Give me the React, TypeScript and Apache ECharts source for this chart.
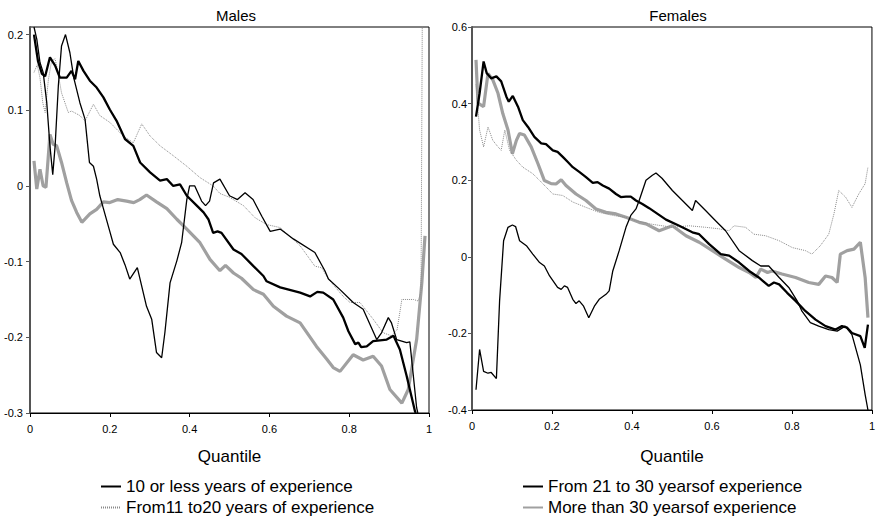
import React, { useEffect, useRef } from "react";
import * as echarts from "echarts";

// Legend / series names
const NAME_10 = "10 or less years of experience";
const NAME_11 = "From11 to20 years of experience";
const NAME_21 = "From 21 to 30 yearsof experience";
const NAME_30 = "More than 30 yearsof experience";

const PANEL_TITLES = ["Males", "Females"];
const X_TICKS = [0, 0.2, 0.4, 0.6, 0.8, 1];

// Males: [quantile, coefficient]
const maleLe10: number[][] = [
  [0.01, 0.21], [0.017, 0.194], [0.025, 0.163], [0.033, 0.15], [0.042, 0.11], [0.05, 0.053], [0.057, 0.015],
  [0.063, 0.053], [0.071, 0.132], [0.079, 0.185], [0.089, 0.2], [0.1, 0.176], [0.11, 0.142], [0.125, 0.11],
  [0.138, 0.088], [0.149, 0.031], [0.159, 0.026], [0.167, 0.009], [0.175, -0.013], [0.184, -0.03], [0.2, -0.06],
  [0.209, -0.077], [0.226, -0.088], [0.238, -0.104], [0.25, -0.123], [0.269, -0.108], [0.292, -0.159],
  [0.305, -0.176], [0.317, -0.22], [0.33, -0.227], [0.338, -0.194], [0.351, -0.128], [0.368, -0.099],
  [0.38, -0.075], [0.393, -0.018], [0.4, 0.0], [0.413, 0.0], [0.43, -0.02], [0.44, -0.026], [0.45, -0.02],
  [0.46, 0.004], [0.476, 0.009], [0.5, -0.013], [0.52, -0.018], [0.539, -0.009], [0.559, -0.018], [0.581, -0.04],
  [0.602, -0.06], [0.627, -0.057], [0.66, -0.07], [0.714, -0.088], [0.739, -0.112], [0.748, -0.123],
  [0.777, -0.137], [0.81, -0.154], [0.835, -0.163], [0.869, -0.203], [0.881, -0.194], [0.898, -0.174],
  [0.906, -0.181], [0.919, -0.203], [0.944, -0.207], [0.952, -0.206], [0.969, -0.293], [0.972, -0.3],
];
const maleF11: number[][] = [
  [0.01, 0.15], [0.018, 0.16], [0.025, 0.143], [0.032, 0.11], [0.038, 0.097], [0.046, 0.14], [0.054, 0.165],
  [0.063, 0.168], [0.07, 0.15], [0.079, 0.123], [0.096, 0.097], [0.104, 0.099], [0.125, 0.093], [0.138, 0.086],
  [0.159, 0.108], [0.175, 0.093], [0.2, 0.084], [0.234, 0.066], [0.259, 0.057], [0.28, 0.082], [0.301, 0.066],
  [0.326, 0.053], [0.359, 0.04], [0.393, 0.026], [0.426, 0.011], [0.459, 0.0], [0.476, -0.01], [0.5, -0.015],
  [0.535, -0.026], [0.564, -0.042], [0.593, -0.051], [0.627, -0.055], [0.677, -0.079], [0.714, -0.106],
  [0.731, -0.108], [0.748, -0.123], [0.785, -0.146], [0.802, -0.154], [0.827, -0.154], [0.86, -0.176],
  [0.885, -0.194], [0.906, -0.198], [0.92, -0.19], [0.932, -0.15], [0.961, -0.15], [0.973, -0.152],
  [0.98, -0.14], [0.99, 1.0],
];
const maleF21: number[][] = [
  [0.01, 0.2], [0.02, 0.165], [0.03, 0.148], [0.038, 0.145], [0.05, 0.17], [0.063, 0.159], [0.075, 0.143],
  [0.092, 0.143], [0.104, 0.152], [0.113, 0.141], [0.121, 0.165], [0.134, 0.152], [0.15, 0.139], [0.167, 0.13],
  [0.184, 0.117], [0.2, 0.101], [0.217, 0.086], [0.238, 0.062], [0.259, 0.053], [0.276, 0.031], [0.301, 0.018],
  [0.326, 0.007], [0.343, 0.009], [0.359, 0.0], [0.376, 0.002], [0.393, -0.013], [0.418, -0.026],
  [0.435, -0.035], [0.447, -0.044], [0.459, -0.062], [0.47, -0.06], [0.48, -0.062], [0.51, -0.084],
  [0.53, -0.09], [0.56, -0.106], [0.585, -0.119], [0.593, -0.126], [0.627, -0.134], [0.677, -0.141],
  [0.702, -0.146], [0.72, -0.14], [0.735, -0.141], [0.76, -0.15], [0.785, -0.174], [0.798, -0.192],
  [0.815, -0.209], [0.823, -0.207], [0.83, -0.213], [0.844, -0.212], [0.86, -0.205], [0.894, -0.203],
  [0.911, -0.198], [0.927, -0.216], [0.944, -0.251], [0.965, -0.298], [0.967, -0.3],
];
const maleMt30: number[][] = [
  [0.01, 0.033], [0.017, -0.004], [0.025, 0.022], [0.033, 0.0], [0.04, -0.002], [0.05, 0.068], [0.058, 0.055],
  [0.067, 0.053], [0.079, 0.031], [0.092, 0.004], [0.104, -0.019], [0.117, -0.035], [0.13, -0.048],
  [0.15, -0.037], [0.167, -0.031], [0.184, -0.021], [0.2, -0.022], [0.22, -0.018], [0.242, -0.02],
  [0.26, -0.022], [0.275, -0.018], [0.292, -0.012], [0.317, -0.021], [0.343, -0.03], [0.368, -0.044],
  [0.393, -0.057], [0.426, -0.075], [0.451, -0.097], [0.476, -0.112], [0.49, -0.105], [0.51, -0.115],
  [0.53, -0.122], [0.56, -0.137], [0.585, -0.143], [0.61, -0.159], [0.643, -0.172], [0.677, -0.181],
  [0.718, -0.212], [0.744, -0.229], [0.76, -0.24], [0.777, -0.245], [0.81, -0.223], [0.835, -0.23],
  [0.86, -0.225], [0.881, -0.238], [0.902, -0.269], [0.932, -0.287], [0.948, -0.269], [0.969, -0.203],
  [0.982, -0.128], [0.99, -0.066],
];

// Females: [quantile, coefficient]
const femaleLe10: number[][] = [
  [0.01, -0.347], [0.019, -0.242], [0.029, -0.299], [0.04, -0.304], [0.048, -0.302], [0.061, -0.318],
  [0.069, -0.115], [0.079, 0.042], [0.09, 0.077], [0.101, 0.083], [0.109, 0.079], [0.119, 0.042],
  [0.136, 0.029], [0.152, 0.007], [0.169, -0.015], [0.181, -0.024], [0.194, -0.05], [0.214, -0.08],
  [0.223, -0.085], [0.231, -0.076], [0.239, -0.08], [0.252, -0.111], [0.26, -0.122], [0.268, -0.115],
  [0.279, -0.129], [0.292, -0.159], [0.306, -0.129], [0.318, -0.111], [0.335, -0.098], [0.343, -0.089],
  [0.352, -0.037], [0.368, 0.016], [0.385, 0.077], [0.397, 0.108], [0.41, 0.125], [0.418, 0.147],
  [0.435, 0.2], [0.451, 0.213], [0.46, 0.219], [0.475, 0.205], [0.501, 0.173], [0.526, 0.147],
  [0.551, 0.121], [0.559, 0.147], [0.584, 0.121], [0.609, 0.094], [0.634, 0.068], [0.668, 0.016],
  [0.701, -0.01], [0.722, -0.024], [0.742, -0.024], [0.768, -0.054], [0.792, -0.08], [0.813, -0.115],
  [0.825, -0.142], [0.846, -0.172], [0.867, -0.181], [0.892, -0.19], [0.913, -0.194], [0.933, -0.181],
  [0.95, -0.203], [0.971, -0.282], [0.983, -0.36], [0.99, -0.4],
];
const femaleF11: number[][] = [
  [0.01, 0.45], [0.019, 0.331], [0.029, 0.287], [0.04, 0.339], [0.052, 0.304], [0.065, 0.287], [0.073, 0.278],
  [0.082, 0.331], [0.094, 0.278], [0.111, 0.252], [0.127, 0.234], [0.152, 0.217], [0.177, 0.191],
  [0.202, 0.164], [0.227, 0.16], [0.252, 0.143], [0.285, 0.129], [0.318, 0.116], [0.352, 0.108],
  [0.385, 0.103], [0.41, 0.094], [0.45, 0.085], [0.501, 0.077], [0.543, 0.081], [0.584, 0.077],
  [0.618, 0.073], [0.643, 0.068], [0.655, 0.081], [0.684, 0.077], [0.705, 0.059], [0.734, 0.055],
  [0.768, 0.042], [0.801, 0.024], [0.834, 0.016], [0.85, 0.007], [0.871, 0.029], [0.892, 0.059],
  [0.905, 0.112], [0.917, 0.173], [0.934, 0.156], [0.95, 0.129], [0.967, 0.164], [0.983, 0.191], [0.99, 0.234],
];
const femaleF21: number[][] = [
  [0.01, 0.366], [0.019, 0.427], [0.029, 0.51], [0.037, 0.479], [0.048, 0.466], [0.061, 0.471], [0.073, 0.458],
  [0.086, 0.418], [0.092, 0.405], [0.102, 0.42], [0.115, 0.392], [0.127, 0.357], [0.14, 0.339], [0.156, 0.313],
  [0.173, 0.296], [0.185, 0.294], [0.202, 0.278], [0.214, 0.274], [0.227, 0.261], [0.239, 0.248],
  [0.252, 0.234], [0.269, 0.221], [0.285, 0.208], [0.302, 0.193], [0.314, 0.195], [0.327, 0.186],
  [0.343, 0.178], [0.36, 0.164], [0.372, 0.156], [0.385, 0.157], [0.397, 0.157], [0.41, 0.147],
  [0.426, 0.138], [0.443, 0.127], [0.464, 0.112], [0.485, 0.097], [0.518, 0.081], [0.551, 0.064],
  [0.568, 0.059], [0.593, 0.033], [0.622, 0.007], [0.643, 0.003], [0.668, -0.015], [0.693, -0.037],
  [0.717, -0.054], [0.742, -0.076], [0.755, -0.067], [0.768, -0.072], [0.788, -0.094], [0.809, -0.115],
  [0.834, -0.142], [0.859, -0.164], [0.884, -0.181], [0.909, -0.19], [0.925, -0.181], [0.938, -0.185],
  [0.95, -0.199], [0.971, -0.207], [0.982, -0.238], [0.99, -0.177],
];
const femaleMt30: number[][] = [
  [0.01, 0.514], [0.015, 0.401], [0.023, 0.396], [0.029, 0.392], [0.04, 0.479], [0.052, 0.462], [0.065, 0.427],
  [0.077, 0.374], [0.09, 0.331], [0.101, 0.269], [0.111, 0.304], [0.119, 0.322], [0.131, 0.318],
  [0.148, 0.287], [0.165, 0.243], [0.181, 0.199], [0.198, 0.191], [0.21, 0.19], [0.223, 0.201],
  [0.235, 0.186], [0.26, 0.164], [0.285, 0.147], [0.31, 0.125], [0.335, 0.116], [0.36, 0.112],
  [0.385, 0.103], [0.418, 0.09], [0.435, 0.086], [0.468, 0.068], [0.501, 0.081], [0.535, 0.055],
  [0.568, 0.038], [0.601, 0.016], [0.634, -0.006], [0.668, -0.028], [0.693, -0.041], [0.71, -0.054],
  [0.722, -0.032], [0.739, -0.041], [0.75, -0.037], [0.775, -0.045], [0.809, -0.054], [0.842, -0.067],
  [0.867, -0.072], [0.884, -0.05], [0.9, -0.054], [0.913, -0.067], [0.921, 0.007], [0.938, 0.016],
  [0.955, 0.02], [0.971, 0.038], [0.983, -0.054], [0.99, -0.159],
];

const FONT = "'Liberation Sans', Arial, Helvetica, sans-serif";

const STYLE_10 = { color: "#000000", width: 1.3, type: "solid" as const };
const STYLE_11 = { color: "#8a8a8a", width: 1, type: [1, 1] as any };
const STYLE_21 = { color: "#000000", width: 2.3, type: "solid" as const };
const STYLE_30 = { color: "#a0a0a0", width: 3.2, type: "solid" as const };

function mkSeries(name: string, data: number[][], idx: number, style: any, z: number) {
  return {
    name,
    type: "line",
    xAxisIndex: idx,
    yAxisIndex: idx,
    data,
    showSymbol: false,
    symbol: "none",
    lineStyle: style,
    itemStyle: { color: style.color },
    z,
    clip: true,
  };
}

function xAxisFor(idx: number, nameGap: number) {
  return {
    type: "value",
    gridIndex: idx,
    min: 0,
    max: 1,
    interval: 0.2,
    name: "Quantile",
    nameLocation: "middle",
    nameGap,
    nameTextStyle: { fontSize: 17, color: "#000", fontFamily: FONT },
    axisLine: { show: true, onZero: false, lineStyle: { color: "#000", width: 1 } },
    axisTick: { show: true, length: 4, inside: false, lineStyle: { color: "#000" } },
    axisLabel: {
      fontSize: 11,
      color: "#000",
      margin: 10,
      fontFamily: FONT,
      formatter: (v: number) => (X_TICKS.some((t) => Math.abs(t - v) < 1e-6) ? String(+v.toFixed(1)) : ""),
    },
    splitLine: { show: false },
  };
}

function yAxisFor(idx: number, min: number, max: number, interval: number, margin: number) {
  return {
    type: "value",
    gridIndex: idx,
    min,
    max,
    interval,
    axisLine: { show: true, onZero: false, lineStyle: { color: "#555", width: 2 } },
    axisTick: { show: true, length: 4, inside: false, lineStyle: { color: "#555" } },
    axisLabel: {
      fontSize: 11,
      color: "#000",
      margin,
      fontFamily: FONT,
      showMaxLabel: max === 0.6,
      formatter: (v: number) => String(+v.toFixed(1)),
    },
    splitLine: { show: false },
  };
}

function legendFor(left: number, names: string[]) {
  return {
    left,
    top: 478,
    orient: "vertical",
    padding: 0,
    itemGap: 4,
    itemWidth: 20,
    itemHeight: 10,
    height: 40,
    textStyle: { fontSize: 17, color: "#000", fontFamily: FONT },
    itemStyle: { opacity: 0 },
    data: names,
    selectedMode: false,
  };
}

export default function App() {
  const ref = useRef<HTMLDivElement>(null);
  useEffect(() => {
    if (!ref.current) return;
    const chart = echarts.init(ref.current, null, { renderer: "svg" });
    const option: any = {
      animation: false,
      backgroundColor: "#ffffff",
      textStyle: { fontFamily: FONT },
      title: [
        { text: PANEL_TITLES[0], left: 231, top: 3, textAlign: "center", textStyle: { fontSize: 15, fontWeight: "normal", color: "#000", fontFamily: FONT } },
        { text: PANEL_TITLES[1], left: 673, top: 3, textAlign: "center", textStyle: { fontSize: 15, fontWeight: "normal", color: "#000", fontFamily: FONT } },
      ],
      grid: [
        { left: 30, top: 27, width: 399, height: 386, show: true, borderColor: "#000", borderWidth: 1, backgroundColor: "transparent" },
        { left: 472, top: 27, width: 401, height: 383, show: true, borderColor: "#000", borderWidth: 1, backgroundColor: "transparent" },
      ],
      xAxis: [xAxisFor(0, 35), xAxisFor(1, 38)],
      yAxis: [yAxisFor(0, -0.3, 0.21, 0.1, 7), yAxisFor(1, -0.4, 0.6, 0.2, 5)],
      legend: [legendFor(100, [NAME_10, NAME_11]), legendFor(522, [NAME_21, NAME_30])],
      series: [
        mkSeries(NAME_30, maleMt30, 0, STYLE_30, 1),
        mkSeries(NAME_11, maleF11, 0, STYLE_11, 2),
        mkSeries(NAME_21, maleF21, 0, STYLE_21, 3),
        mkSeries(NAME_10, maleLe10, 0, STYLE_10, 4),
        mkSeries(NAME_30, femaleMt30, 1, STYLE_30, 1),
        mkSeries(NAME_11, femaleF11, 1, STYLE_11, 2),
        mkSeries(NAME_21, femaleF21, 1, STYLE_21, 3),
        mkSeries(NAME_10, femaleLe10, 1, STYLE_10, 4),
      ],
    };
    chart.setOption(option);
    return () => chart.dispose();
  }, []);
  return <div ref={ref} style={{ position: "fixed", left: 0, top: 0, width: 878, height: 520 }} />;
}
